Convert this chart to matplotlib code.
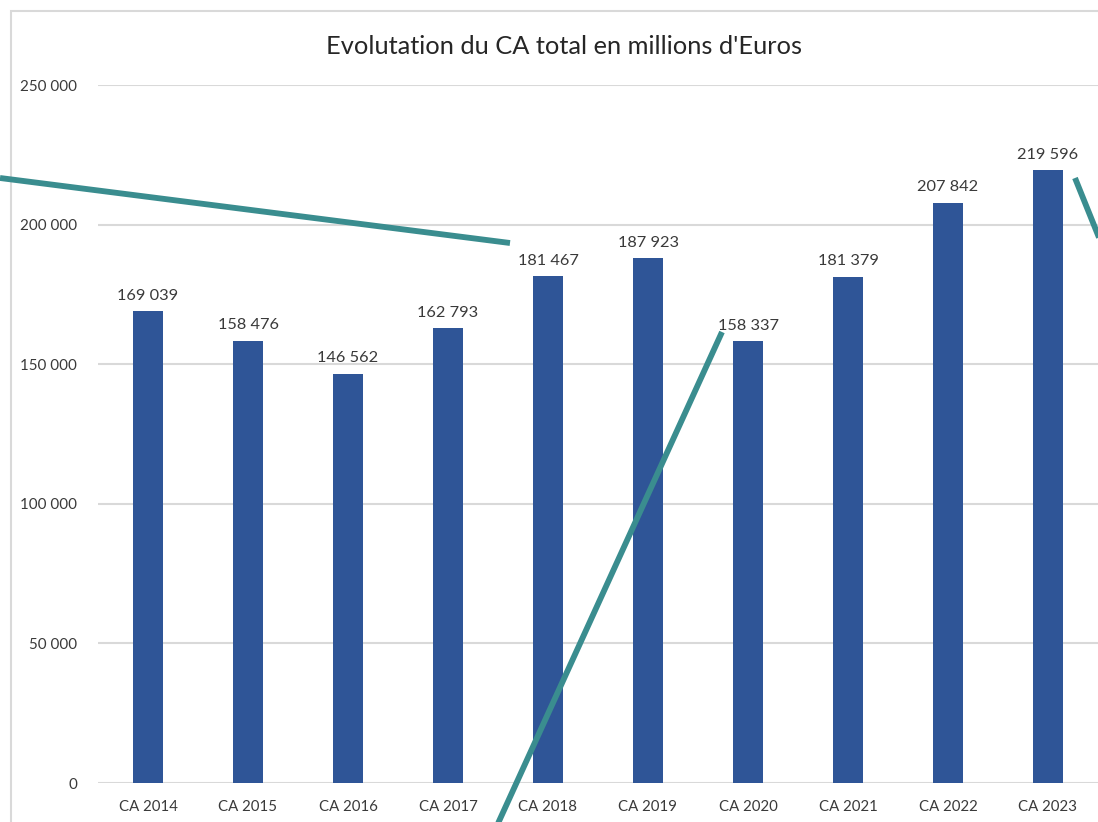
"""Bar chart of total turnover per year, with value labels."""

import matplotlib
matplotlib.use("Agg")
from matplotlib import pyplot as plt
from matplotlib.lines import Line2D
from matplotlib.patches import Rectangle
import numpy

years = ["CA 2014", "CA 2015", "CA 2016", "CA 2017", "CA 2018",
         "CA 2019", "CA 2020", "CA 2021", "CA 2022", "CA 2023"]
turnover = [169039, 158476, 146562, 162793, 181467,
            187923, 158337, 181379, 207842, 219596]
y_ticks = [0, 50000, 100000, 150000, 200000, 250000]

BAR_COLOR = "#2F5597"
GRID_COLOR = "#D9D9D9"
TEXT_COLOR = "#3A3A3A"
TEAL = "#3A8D8F"

W, H = 1098, 822


def space_thousands(value):
    """Format 169039 as '169 039'."""
    return f"{value:,}".replace(",", " ")


plt.rcParams["font.family"] = ["Lato", "DejaVu Sans"]

fig = plt.figure(figsize=(W / 100, H / 100), dpi=100)
fig.patch.set_facecolor("white")

# chart frame (only top and left edges are visible)
fig.add_artist(Rectangle((11 / W, -0.1), 1.2, 1.1 - 11 / H,
                         transform=fig.transFigure, fill=False,
                         edgecolor=GRID_COLOR, linewidth=1.5))

ax = fig.add_axes([98 / W, 1 - 783 / H, 1 - 98 / W, (783 - 85) / H])
x = numpy.arange(len(years))
ax.bar(x, turnover, width=0.3, color=BAR_COLOR, zorder=3)
for xi, val in zip(x, turnover):
    ax.annotate(space_thousands(val), (xi, val), xytext=(0, 6),
                textcoords="offset points", ha="center", va="bottom",
                fontsize=11.8, color=TEXT_COLOR)

ax.set_xlim(-0.5, len(years) - 0.5)
ax.set_ylim(0, 250000)
ax.set_yticks(y_ticks)
ax.set_yticklabels([space_thousands(t) for t in y_ticks])
ax.set_xticks(x)
ax.set_xticklabels(years)
ax.tick_params(axis="y", length=0, pad=15, labelsize=10.9, labelcolor=TEXT_COLOR)
ax.tick_params(axis="x", length=0, pad=12, labelsize=10.8, labelcolor=TEXT_COLOR)
ax.grid(axis="y", color=GRID_COLOR, linewidth=1.5, zorder=0)
for spine in ax.spines.values():
    spine.set_visible(False)

fig.text(564 / W, 1 - 46 / H, "Evolutation du CA total en millions d'Euros",
         ha="center", va="center", fontsize=18.3, color="#262626")

# teal pointer lines drawn over the chart
pointers = [((0, 178), (510, 243)),
            ((722, 332), (495, 830)),
            ((1075, 178), (1102, 245))]
for (x0, y0), (x1, y1) in pointers:
    fig.add_artist(Line2D([x0 / W, x1 / W], [1 - y0 / H, 1 - y1 / H],
                          transform=fig.transFigure, color=TEAL,
                          linewidth=4.2, solid_capstyle="butt", zorder=10))

fig.savefig("out.png", dpi=100)
